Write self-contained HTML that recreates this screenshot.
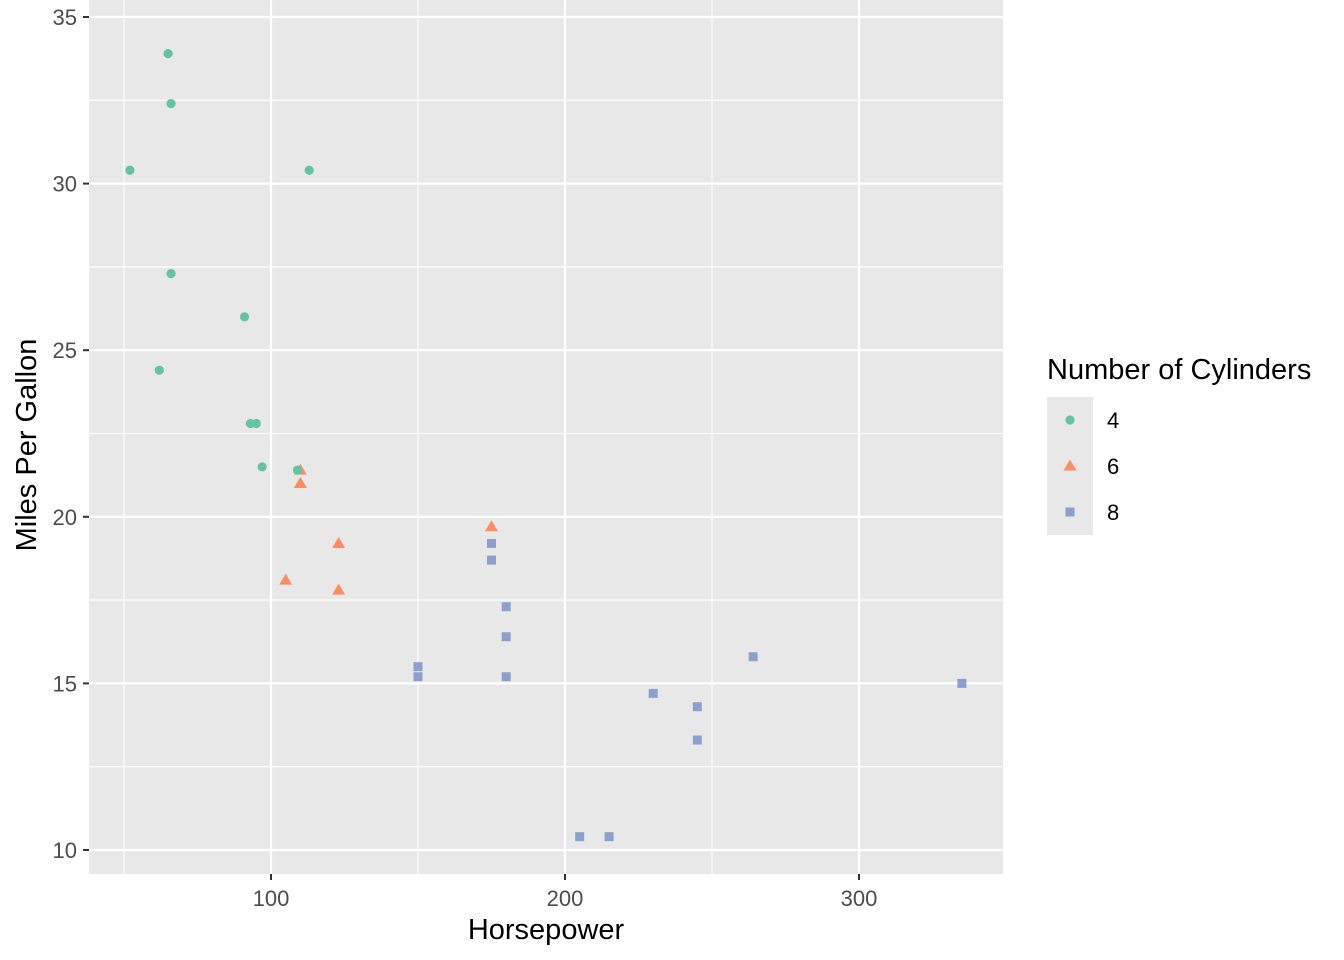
<!DOCTYPE html>
<html><head><meta charset="utf-8"><style>
body{margin:0;background:#fff;}
svg{display:block;font-family:"Liberation Sans",Arial,sans-serif;}
</style></head><body>
<svg id="s" width="1344" height="960" xmlns="http://www.w3.org/2000/svg"></svg>
<script>
const s=document.getElementById('s');
const X=h=>271+(h-100)*2.94, Y=m=>17+(35-m)*33.32;
let o='<rect x="89" y="0" width="914" height="874" fill="#E8E8E8"/>';
[50,150,250].forEach(v=>o+=`<line x1="${X(v)}" x2="${X(v)}" y1="0" y2="874" stroke="#fff" stroke-width="1.1"/>`);
[12.5,17.5,22.5,27.5,32.5].forEach(v=>o+=`<line y1="${Y(v)}" y2="${Y(v)}" x1="89" x2="1003" stroke="#fff" stroke-width="1.1"/>`);
[100,200,300].forEach(v=>o+=`<line x1="${X(v)}" x2="${X(v)}" y1="0" y2="874" stroke="#fff" stroke-width="2.2"/><line x1="${X(v)}" x2="${X(v)}" y1="874" y2="880" stroke="#333" stroke-width="2"/><text x="${X(v)}" y="906" font-size="22" fill="#4D4D4D" text-anchor="middle">${v}</text>`);
[10,15,20,25,30,35].forEach(v=>o+=`<line y1="${Y(v)}" y2="${Y(v)}" x1="89" x2="1003" stroke="#fff" stroke-width="2.2"/><line y1="${Y(v)}" y2="${Y(v)}" x1="83" x2="89" stroke="#333" stroke-width="2"/><text x="77" y="${Y(v)+8}" font-size="22" fill="#4D4D4D" text-anchor="end">${v}</text>`);
const d=[[110,21,6],[110,21,6],[93,22.8,4],[110,21.4,6],[175,18.7,8],[105,18.1,6],[245,14.3,8],[62,24.4,4],[95,22.8,4],[123,19.2,6],[123,17.8,6],[180,16.4,8],[180,17.3,8],[180,15.2,8],[205,10.4,8],[215,10.4,8],[230,14.7,8],[66,32.4,4],[52,30.4,4],[65,33.9,4],[97,21.5,4],[150,15.5,8],[150,15.2,8],[245,13.3,8],[175,19.2,8],[66,27.3,4],[91,26,4],[113,30.4,4],[264,15.8,8],[175,19.7,6],[335,15,8],[109,21.4,4]];
function sh(c,x,y){
 if(c==4)return `<circle cx="${x}" cy="${y}" r="4.6" fill="#66C2A5"/>`;
 if(c==6)return `<polygon points="${x},${y-6.5} ${x+6.5},${y+4.5} ${x-6.5},${y+4.5}" fill="#FC8D62"/>`;
 return `<rect x="${x-4.5}" y="${y-4.5}" width="9" height="9" fill="#8DA0CB"/>`;
}
d.forEach(p=>o+=sh(p[2],X(p[0]),Y(p[1])));
o+=`<text x="546" y="939" font-size="29" text-anchor="middle">Horsepower</text>`;
o+=`<text transform="translate(36,445) rotate(-90)" font-size="29" text-anchor="middle">Miles Per Gallon</text>`;
o+=`<text x="1047" y="379" font-size="29">Number of Cylinders</text>`;
o+=`<rect x="1047" y="397" width="46" height="138" fill="#E8E8E8"/>`;
[[4,420],[6,466],[8,512]].forEach(k=>{o+=sh(k[0],1070,k[1]);o+=`<text x="1107" y="${k[1]+8}" font-size="22">${k[0]}</text>`;});
s.innerHTML=o;
</script>
</body></html>
